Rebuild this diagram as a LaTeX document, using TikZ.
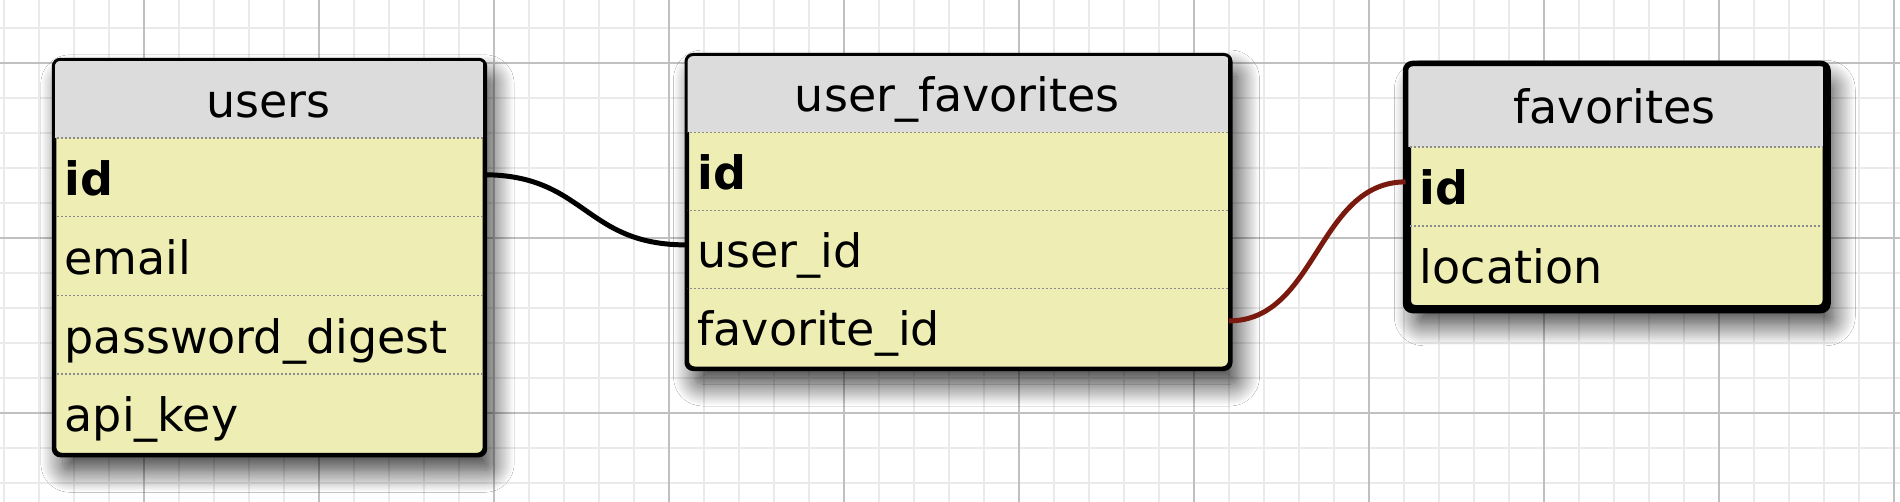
\documentclass[tikz,border=0pt]{standalone}
\usepackage{fontspec}
\setmainfont{DejaVu Sans}
\usetikzlibrary{shadows.blur}
\definecolor{rowyellow}{RGB}{238,238,180}
\definecolor{headgray}{RGB}{220,220,220}
\definecolor{minorgrid}{RGB}{234,234,234}
\definecolor{majorgrid}{RGB}{192,192,192}
\definecolor{sepgray}{RGB}{140,140,140}
\definecolor{fkred}{RGB}{122,26,14}
\newcommand\tabfont{\fontsize{23}{27}\selectfont}
\begin{document}
\begin{tikzpicture}[x=0.5pt,y=-0.5pt,
  tablebox/.style={draw=black, fill=rowyellow, rounded corners=3.5pt, line width=1.5pt,
    anchor=north west, inner sep=0pt, shape=rectangle,
    blur shadow={shadow xshift=4pt, shadow yshift=-8pt, shadow blur radius=11pt,
      shadow blur steps=24, shadow opacity=80}},
  tableborder/.style={draw=black, rounded corners=3.5pt, line width=1.5pt},
  rowtext/.style={inner xsep=5.5pt, inner ysep=0pt, align=left, text height=20pt,
    text depth=2pt, anchor=north west, font=\tabfont},
  titletext/.style={inner xsep=5.5pt, inner ysep=0pt, align=center, text height=20pt,
    text depth=2pt, anchor=north west, font=\tabfont},
  sepline/.style={draw=sepgray, line width=0.75pt, dash pattern=on 1pt off 1pt},
  minorline/.style={draw=minorgrid, line width=1pt},
  majorline/.style={draw=majorgrid, line width=1pt},
  conn/.style={line width=2.5pt},
]
\useasboundingbox (0,0) rectangle (1900,502);
\fill[white] (0,0) rectangle (1900,502);
% grid
\foreach \i in {0,...,54} \draw[minorline] ({3.6+35*\i},0) -- ({3.6+35*\i},502);
\foreach \j in {0,...,13} \draw[minorline] (0,{28.3+35*\j}) -- (1900,{28.3+35*\j});
\foreach \i in {0,...,10} \draw[majorline] ({143.6+175*\i},0) -- ({143.6+175*\i},502);
\foreach \j in {0,1,2} \draw[majorline] (0,{63.3+175*\j}) -- (1900,{63.3+175*\j});

% ---------- users ----------
\node[tablebox, minimum width=214.7pt, minimum height=196.75pt] (users) at (53.3,59.3) {};
\begin{scope}
  \clip[rounded corners=3.5pt] (users.north west) rectangle (users.south east);
  \fill[headgray] (users.north west) rectangle (482.7,138);
\end{scope}
\foreach \y in {138,216.7,295.4,374.1} \draw[sepline] (53.3,\y) -- (482.7,\y);
\node[titletext, text width=203.7pt, minimum height=39.35pt] (users-title) at (53.3,59.3) {users};
\node[rowtext, text width=203.7pt, minimum height=39.35pt] (users-id) at (53.3,138) {\bfseries id};
\node[rowtext, text width=203.7pt, minimum height=39.35pt] (users-email) at (53.3,216.7) {email};
\node[rowtext, text width=203.7pt, minimum height=39.35pt] (users-pw) at (53.3,295.4) {password\_digest};
\node[rowtext, text width=203.7pt, minimum height=39.35pt] (users-api) at (53.3,374.1) {api\_key};
\draw[tableborder] (users.north west) rectangle (users.south east);

% ---------- user_favorites ----------
\node[tablebox, minimum width=271pt, minimum height=156pt] (uf) at (686,54.5) {};
\begin{scope}
  \clip[rounded corners=3.5pt] (uf.north west) rectangle (uf.south east);
  \fill[headgray] (uf.north west) rectangle (1228,132.5);
\end{scope}
\foreach \y in {132.5,210.5,288.5} \draw[sepline] (686,\y) -- (1228,\y);
\node[titletext, text width=260pt, minimum height=39pt] (uf-title) at (686,54.5) {user\_favorites};
\node[rowtext, text width=260pt, minimum height=39pt] (uf-id) at (686,132.5) {\bfseries id};
\node[rowtext, text width=260pt, minimum height=39pt] (uf-userid) at (686,210.5) {user\_id};
\node[rowtext, text width=260pt, minimum height=39pt] (uf-favid) at (686,288.5) {favorite\_id};
\draw[tableborder] (uf.north west) rectangle (uf.south east);

% ---------- favorites ----------
\node[tablebox, line width=2.75pt, minimum width=208.5pt, minimum height=120.75pt] (fav) at (1405.5,63.5) {};
\begin{scope}
  \clip[rounded corners=3.5pt] (fav.north west) rectangle (fav.south east);
  \fill[headgray] (fav.north west) rectangle (1822.5,147);
\end{scope}
\foreach \y in {147,226} \draw[sepline] (1405.5,\y) -- (1822.5,\y);
\node[titletext, inner xsep=7pt, text width=194.5pt, minimum height=41.75pt] (fav-title) at (1405.5,63.5) {favorites};
\node[rowtext, inner xsep=7pt, text width=194.5pt, minimum height=39.5pt] (fav-id) at (1405.5,147) {\bfseries id};
\node[rowtext, inner xsep=7pt, text width=194.5pt, minimum height=39.5pt] (fav-loc) at (1405.5,226) {location};
\draw[tableborder, line width=2.75pt] (fav.north west) rectangle (fav.south east);

% ---------- connectors ----------
\draw[conn, black] ([yshift=1.5pt]users-id.east) .. controls +(51pt,0) and +(-51pt,0) .. ([yshift=2.5pt]uf-userid.west);
\draw[conn, fkred] ([yshift=3.5pt]uf-favid.east) .. controls +(44pt,0) and +(-44pt,0) .. ([yshift=2.5pt]fav-id.west);
\end{tikzpicture}
\end{document}
